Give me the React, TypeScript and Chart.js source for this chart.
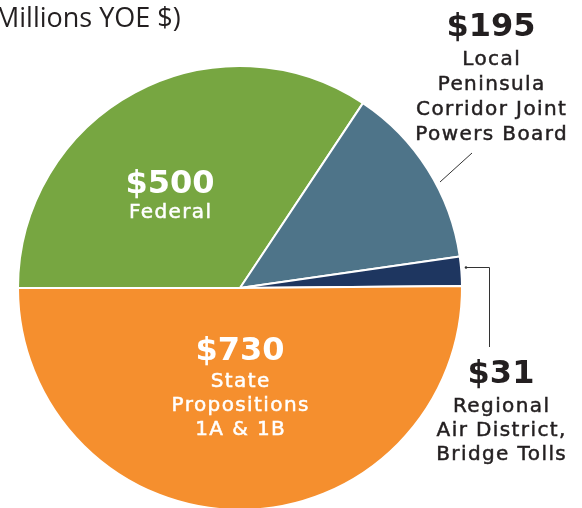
import React, { useEffect, useRef } from "react";
import { Chart, registerables } from "chart.js";

Chart.register(...registerables);

const categories = ["Federal", "Local Peninsula Corridor Joint Powers Board", "Regional Air District, Bridge Tolls", "State Propositions 1A & 1B"];
const values = [500, 195, 31, 730];
const colors = ["#77A641", "#4E7489", "#1E3660", "#F58F2E"];
const valueLabels = ["$500", "$195", "$31", "$730"];
const title = "Millions YOE $)";

const W = 582;
const H = 560;

const labelPlugin = {
  id: "customLabels",
  afterDraw(chart: any) {
    const ctx = chart.ctx as CanvasRenderingContext2D;
    const dark = "#231F20";
    ctx.save();
    ctx.textBaseline = "alphabetic";
    // title
    ctx.fillStyle = "#231F20";
    ctx.font = "400 27px 'Open Sans'";
    ctx.textAlign = "left";
    ctx.fillText(title, -5, 27);

    const big = "bold 32px 'DejaVu Sans'";
    const small = "20px 'DejaVu Sans'";
    const sp = 1.4;
    const block = (x: number, y: number, color: string, num: string, lines: string[], first: number, gap: number) => {
      ctx.fillStyle = color;
      ctx.strokeStyle = color;
      ctx.lineWidth = 0.5;
      ctx.textAlign = "center";
      (ctx as any).letterSpacing = "0px";
      ctx.font = big;
      ctx.fillText(num, x, y);
      ctx.font = small;
      (ctx as any).letterSpacing = sp + "px";
      lines.forEach((l, i) => {
        const yy = y + first + i * gap;
        ctx.fillText(l, x + sp / 2, yy);
        ctx.strokeText(l, x + sp / 2, yy);
      });
      (ctx as any).letterSpacing = "0px";
    };
    block(170, 193, "#ffffff", valueLabels[0], ["Federal"], 25, 24);
    block(240, 360, "#ffffff", valueLabels[3], ["State", "Propositions", "1A & 1B"], 27, 24.2);
    block(491, 36, dark, valueLabels[1], ["Local", "Peninsula", "Corridor Joint", "Powers Board"], 28.5, 25.2);
    block(501, 383, dark, valueLabels[2], ["Regional", "Air District,", "Bridge Tolls"], 28.5, 24.4);

    // leader lines
    ctx.strokeStyle = "#333333";
    ctx.lineWidth = 1;
    ctx.beginPath();
    ctx.moveTo(472, 153);
    ctx.lineTo(440, 182);
    ctx.stroke();
    ctx.beginPath();
    ctx.moveTo(466, 267.5);
    ctx.lineTo(489.5, 267.5);
    ctx.lineTo(489.5, 347);
    ctx.stroke();
    ctx.fillStyle = "#333333";
    ctx.beginPath();
    ctx.arc(466, 267.5, 1.3, 0, Math.PI * 2);
    ctx.fill();
    ctx.restore();
  },
};

export default function App() {
  const ref = useRef<HTMLCanvasElement>(null);
  useEffect(() => {
    const chart = new Chart(ref.current!, {
      type: "pie",
      data: {
        labels: categories,
        datasets: [
          {
            data: values,
            backgroundColor: colors,
            borderColor: "#ffffff",
            borderWidth: 2,
          },
        ],
      },
      options: {
        animation: false,
        responsive: false,
        devicePixelRatio: 1,
        rotation: -90,
        layout: { padding: { left: 17, right: 119, top: 65, bottom: 49 } },
        plugins: { legend: { display: false }, tooltip: { enabled: false } },
      },
      plugins: [labelPlugin],
    });
    return () => chart.destroy();
  }, []);
  return (
    <div style={{ position: "fixed", left: 0, top: 0, width: 582, height: 508, overflow: "hidden", background: "#fff" }}>
      <canvas ref={ref} width={W} height={H} style={{ display: "block", width: W, height: H }} />
    </div>
  );
}
